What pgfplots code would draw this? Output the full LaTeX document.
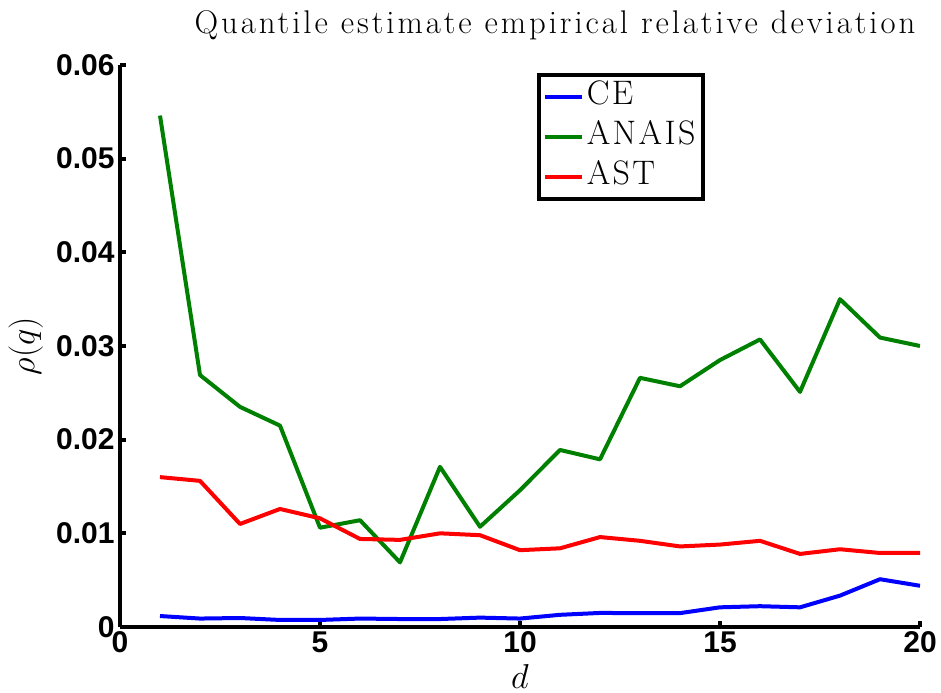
\documentclass[border=0pt]{standalone}
\usepackage{fontspec}
\newfontfamily\ticksf{Liberation Sans}
\newfontfamily\titlefont{Latin Modern Roman}[LetterSpace=9]
\newfontfamily\legfont{Latin Modern Roman}[LetterSpace=7]
\usepackage{pgfplots}
\pgfplotsset{compat=1.18}
\usetikzlibrary{calc}

\pgfplotstableread{
d    ce      anais   ast
1    0.00117 0.0546  0.0160
2    0.00090 0.0269  0.0156
3    0.00096 0.0235  0.0110
4    0.00075 0.0215  0.0126
5    0.00075 0.0106  0.0116
6    0.00090 0.0114  0.0094
7    0.00085 0.0069  0.0093
8    0.00085 0.0171  0.0100
9    0.00100 0.0107  0.0098
10   0.00090 0.0146  0.0082
11   0.00130 0.0189  0.0084
12   0.00150 0.0179  0.0096
13   0.00148 0.0266  0.0092
14   0.00148 0.0257  0.0086
15   0.00210 0.0285  0.0088
16   0.00222 0.0307  0.0092
17   0.00210 0.0251  0.0078
18   0.00335 0.0350  0.0083
19   0.00510 0.0309  0.0079
20   0.00440 0.0300  0.0079
}\datatable

\definecolor{mblue}{RGB}{0,0,255}
\definecolor{mgreen}{RGB}{0,128,0}
\definecolor{mred}{RGB}{255,0,0}

\begin{document}
\begin{tikzpicture}
  \begin{axis}[
    name=ax,
    scale only axis,
    width=400pt, height=281pt,
    xmin=0, xmax=20, ymin=0, ymax=0.06,
    axis x line=bottom, axis y line=left,
    axis line style={-, line width=2pt},
    xtick={0,5,10,15,20},
    ytick={0,0.01,0.02,0.03,0.04,0.05,0.06},
    scaled y ticks=false,
    yticklabel style={/pgf/number format/fixed, /pgf/number format/precision=2},
    /pgf/number format/assume math mode=true,
    tick label style={font=\ticksf\bfseries\fontsize{15}{18}\selectfont},
    xticklabel style={inner ysep=2pt},
    yticklabel style={inner xsep=2.5pt},
    tick align=inside,
    major tick length=3pt,
    tick style={line width=2pt, black},
    title={Quantile estimate empirical relative deviation},
    title style={at={(axis description cs:0.54375,1.0338)}, anchor=base,
      font=\titlefont\fontsize{16.4}{19}\selectfont},
    xlabel={$d$},
    ylabel={$\rho(q)$},
    label style={font=\fontsize{17}{20}\selectfont},
    xlabel style={at={(axis description cs:0.5,-0.1103)}, anchor=base},
    ylabel style={at={(axis description cs:-0.1069,0.5)}, anchor=base},
    legend style={at={(axis description cs:0.521,0.986)}, anchor=north west,
      draw=black, line width=2pt, inner xsep=2pt, inner ysep=1pt,
      font=\legfont\fontsize{17}{20}\selectfont,
      nodes={inner sep=1.5pt, text height=12.5pt, text depth=4.5pt},
      legend cell align=left},
    legend image code/.code={\draw[#1] (0pt,0pt) -- (18.5pt,0pt);},
    every axis plot/.append style={line width=2pt, line join=round},
  ]
    \addplot[mblue]  table[x=d, y=ce]    {\datatable};
    \addplot[mgreen] table[x=d, y=anais] {\datatable};
    \addplot[mred]   table[x=d, y=ast]   {\datatable};
    \legend{CE, ANAIS, AST}
  \end{axis}
  \pgfresetboundingbox
  \path[use as bounding box] ($(ax.south west)+(-60pt,-33pt)$) rectangle ($(ax.north east)+(10.5pt,32.5pt)$);
\end{tikzpicture}
\end{document}
